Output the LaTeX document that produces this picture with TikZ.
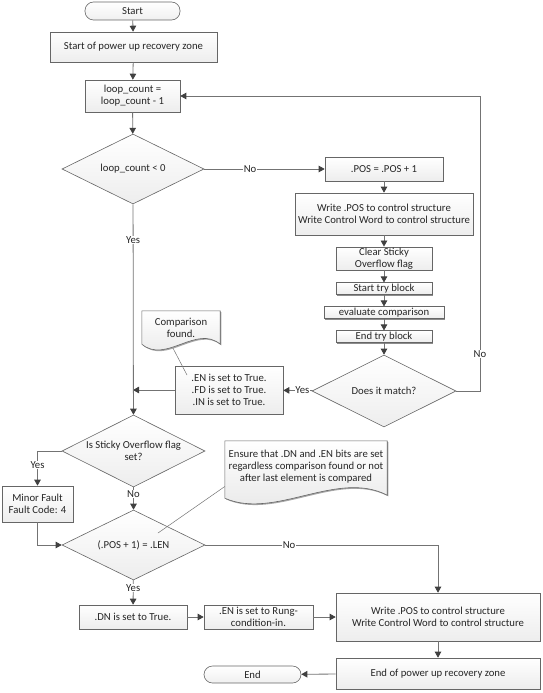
\documentclass[tikz,border=0pt]{standalone}
\usepackage{fontspec}
\setmainfont{Carlito}
\usetikzlibrary{arrows.meta, positioning, calc, shapes, shadows, backgrounds}

\begin{document}
\begin{tikzpicture}[x=1pt, y=-1pt, font=\fontsize{10.7}{12}\selectfont, text=black!85,
    line/.style={draw=black!55, line width=0.8pt},
    arrow/.style={line, -{Triangle[width=6.5pt, length=6pt, color=black!75]}},
    box/.style={draw=black!60, line width=0.6pt, top color=white, bottom color=black!7,
        drop shadow={shadow xshift=1.3pt, shadow yshift=-1.3pt, fill=black!45, opacity=1},
        align=center, inner sep=1pt},
    decision/.style={diamond, draw=black!60, line width=0.6pt, top color=white, bottom color=black!7,
        align=center, inner sep=0pt, aspect=2},
    term/.style={draw=black!60, line width=0.6pt, rounded corners=8.5pt, minimum height=18pt,
        top color=white, bottom color=black!6},
    notefill/.style={draw=black!60, line width=0.6pt, top color=white, bottom color=black!10,
        drop shadow={shadow xshift=1.2pt, shadow yshift=-1.2pt, fill=black!35, opacity=1}},
    lbl/.style={fill=white, inner sep=0.5pt}]
    \useasboundingbox (0,0) rectangle (543,693);

    % upper part
    \node[term, minimum width=95pt] (start) at (132.5,11) {Start};
    \node[box, minimum width=167pt, minimum height=30pt] (zone) at (133.5,47) {Start of power up recovery zone};
    \node[box, minimum width=95pt, minimum height=32pt] (dec) at (132.5,96) {loop\_count =\\ loop\_count - 1};
    \node[decision, minimum width=142pt, minimum height=70pt] (neg) at (133,169) {loop\_count < 0};

    % search loop
    \node[box, minimum width=118pt, minimum height=24pt] (inc) at (384,169) {.POS = .POS + 1};
    \node[box, minimum width=178pt, minimum height=42pt] (wr1) at (384,214) {Write .POS to control structure\\ Write Control Word to control structure};
    \node[box, minimum width=96pt, minimum height=23pt] (clr) at (384,258.5) {Clear Sticky\\ Overflow flag};
    \node[box, minimum width=96pt, minimum height=11.5pt, inner ysep=0pt] (try) at (384,288.5) {Start try block};
    \node[box, minimum width=120pt, minimum height=11.5pt, inner ysep=0pt] (eval) at (384,312.5) {evaluate comparison};
    \node[box, minimum width=96pt, minimum height=11.5pt, inner ysep=0pt] (endtry) at (384,336.5) {End try block};
    \node[decision, minimum width=144pt, minimum height=72pt] (match) at (384,391) {Does it match?};
    \node[box, minimum width=108pt, minimum height=48pt] (found) at (229,390) {.EN is set to True.\\ .FD is set to True.\\ .IN is set to True.};
    \coordinate (loopc) at (480,96);

    % lower part
    \node[decision, minimum width=143pt, minimum height=72pt] (sticky) at (133.5,451) {Is Sticky Overflow flag\\ set?};
    \node[box, minimum width=71pt, minimum height=36pt] (fault) at (37.5,504) {Minor Fault\\ Fault Code: 4};
    \node[decision, minimum width=143pt, minimum height=70pt] (last) at (133.5,545) {(.POS + 1) = .LEN};
    \node[box, minimum width=108pt, minimum height=24pt] (done) at (133,617) {.DN is set to True.};
    \node[box, minimum width=109pt, minimum height=24pt] (rung) at (258.5,617) {.EN is set to Rung-\\ condition-in.};
    \node[box, minimum width=204pt, minimum height=48pt] (wr2) at (438,617) {Write .POS to control structure\\ Write Control Word to control structure};
    \node[box, minimum width=204pt, minimum height=31pt] (zoneend) at (438,673.5) {End of power up recovery zone};
    \node[term, minimum width=97pt, minimum height=17pt] (stop) at (252.5,674.5) {End};

    % notes
    \node[minimum width=78pt, minimum height=33pt, align=center, inner sep=0pt] (cmpnote) at (181,327.5) {Comparison\\ found.};
    \node[minimum width=162pt, minimum height=57pt, align=center, inner sep=0pt] (ensnote) at (306,469.5) {Ensure that .DN and .EN bits are set\\ regardless comparison found or not\\ after last element is compared\\[-5pt]};
    \begin{scope}[on background layer]
        \path[notefill] (cmpnote.north west) -- (cmpnote.north east) -- (cmpnote.south east)
            .. controls +(-24,-20) and +(24,20) .. (cmpnote.south west) -- cycle;
        \path[notefill] (ensnote.north west) -- (ensnote.north east) -- ($(ensnote.south east)+(0,-3)$)
            .. controls +(-50,-26) and +(50,22) .. (ensnote.south west) -- cycle;
    \end{scope}
    \coordinate (cmptip) at (187,375);
    \coordinate (enstip) at (158,533);
    \draw[draw=black!55, line width=0.5pt] ($(cmpnote.south)+(-8,4)$) -- (cmptip);
    \draw[draw=black!55, line width=0.5pt] ($(ensnote.west)+(0,17)$) -- (enstip);

    % connectors
    \draw[arrow] (start) -- (zone);
    \draw[arrow] (zone) -- (dec);
    \draw[arrow] (dec) -- (neg);
    \draw[arrow] (neg) -- node[lbl, pos=0.38] {No} (inc);
    \draw[arrow] (inc) -- (wr1);
    \draw[arrow] (wr1) -- (clr);
    \draw[arrow] (clr) -- (try);
    \draw[arrow] (try) -- (eval);
    \draw[arrow] (eval) -- (endtry);
    \draw[arrow] (endtry) -- (match);
    \draw[arrow] (match.east) -- (match.east -| loopc) -- node[lbl, pos=0.125] {No} (loopc) -- (dec.east);
    \draw[arrow] (match) -- node[lbl, pos=0.35] {Yes} (found);
    \draw[arrow] (found.west) -- (found.west -| neg.south);
    \draw[arrow] (neg) -- node[lbl, pos=0.17] {Yes} (sticky);
    \draw[arrow] (sticky) -- node[lbl, pos=0.3] {No} (last);
    \draw[arrow] (sticky.west) -| node[lbl, pos=0.7] {Yes} (fault);
    \draw[arrow] (fault) |- (last.west);
    \draw[arrow] (last) -- node[lbl, pos=0.32] {Yes} (done);
    \draw[arrow] (last.east) -| node[lbl, pos=0.18] {No} (wr2);
    \draw[arrow] (done) -- (rung);
    \draw[arrow] (rung) -- (wr2);
    \draw[arrow] (wr2) -- (zoneend);
    \draw[arrow] (zoneend) -- (stop);
\end{tikzpicture}
\end{document}
